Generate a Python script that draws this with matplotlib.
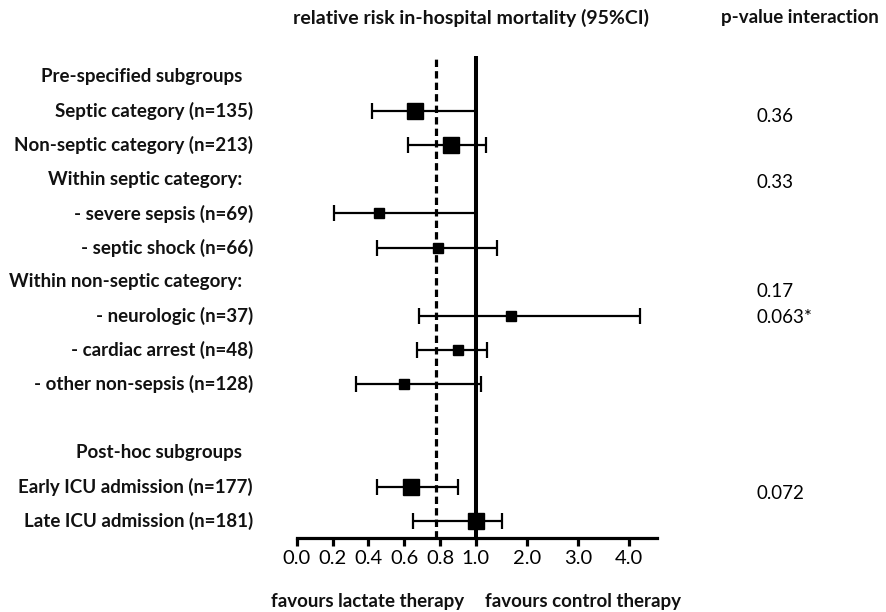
import numpy as np
import matplotlib
matplotlib.use("Agg")
import matplotlib.pyplot as plt
import matplotlib.transforms as mtransforms

plt.rcParams['font.family'] = ['Lato', 'DejaVu Sans']

# row labels, top to bottom (row index = position in list)
labels = ["Pre-specified subgroups", "Septic category (n=135)", "Non-septic category (n=213)",
          "Within septic category:", "- severe sepsis (n=69)", "- septic shock (n=66)",
          "Within non-septic category:", "- neurologic (n=37)", "- cardiac arrest (n=48)",
          "- other non-sepsis (n=128)", "", "Post-hoc subgroups",
          "Early ICU admission (n=177)", "Late ICU admission (n=181)"]
headers = [0, 3, 6, 11]

# relative risk estimates with 95% CI
rr_rows = [1, 2, 4, 5, 7, 8, 9, 12, 13]
rr = [0.66, 0.86, 0.46, 0.79, 1.69, 0.90, 0.60, 0.64, 1.00]
ci_lo = [0.42, 0.62, 0.21, 0.45, 0.68, 0.67, 0.33, 0.45, 0.65]
ci_hi = [1.01, 1.20, 1.00, 1.41, 4.22, 1.21, 1.10, 0.90, 1.52]
big = [True, True, False, False, False, False, False, True, True]

# p-value for interaction
p_rows = [1.17, 3.08, 6.27, 7.03, 12.2]
p_vals = ["0.36", "0.33", "0.17", "0.063*", "0.072"]

ref_dashed = 0.78
xticks = [0, 0.2, 0.4, 0.6, 0.8, 1.0, 2.0, 3.0, 4.0]


# piecewise axis: 0-1 stretched, 1-4 compressed
K = 0.285
def fwd(x):
    x = np.asarray(x, dtype=float)
    return np.where(x <= 1, x, 1 + (x - 1) * K)

def inv(y):
    y = np.asarray(y, dtype=float)
    return np.where(y <= 1, y, 1 + (y - 1) / K)


W, H = 887, 612
fig = plt.figure(figsize=(W / 100, H / 100), dpi=100)
ax = fig.add_axes([296.7 / W, 1 - 537.7 / H, 360 / W, (537.7 - 56) / H])
ax.set_xscale('function', functions=(fwd, inv))
ax.set_xlim(0, 4.54)
ax.set_ylim(13.49, -0.61)

ax.axvline(1.0, color='black', lw=2.9, zorder=1)
ax.axvline(ref_dashed, color='black', lw=2.3, ls=(0, (2.3, 1.3)), zorder=1)

for r, m, lo, hi, b in zip(rr_rows, rr, ci_lo, ci_hi, big):
    ax.errorbar(m, r, xerr=[[m - lo], [hi - m]], fmt='s', color='black',
                ms=11 if b else 7.5, elinewidth=1.6, capsize=6, capthick=1.6, zorder=3)

for s in ['left', 'right', 'top']:
    ax.spines[s].set_visible(False)
ax.spines['bottom'].set_linewidth(2.3)
ax.set_yticks([])
ax.set_xticks(xticks)
ax.set_xticklabels([f"{t:.1f}" for t in xticks])
ax.tick_params(axis='x', length=6, width=2.3, labelsize=14.5, pad=3)

tr = mtransforms.blended_transform_factory(fig.transFigure, ax.transData)
for i, lab in enumerate(labels):
    if not lab:
        continue
    xr = 242 if i in headers else 253
    fig.text(xr / W, i, lab, transform=tr, ha='right', va='center',
             fontsize=13.5, fontweight='bold', color='#111111')

for r, p in zip(p_rows, p_vals):
    fig.text(757 / W, r, p, transform=tr, ha='left', va='center', fontsize=13.5)

fig.text(471 / W, 1 - 18 / H, "relative risk in-hospital mortality (95%CI)",
         ha='center', va='center', fontsize=14, fontweight='bold', color='#111111')
fig.text(800 / W, 1 - 18 / H, "p-value interaction",
         ha='center', va='center', fontsize=13.5, fontweight='bold', color='#111111')
fig.text(368 / W, 1 - 602 / H, "favours lactate therapy",
         ha='center', va='center', fontsize=13.5, fontweight='bold', color='#111111')
fig.text(583 / W, 1 - 602 / H, "favours control therapy",
         ha='center', va='center', fontsize=13.5, fontweight='bold', color='#111111')

fig.savefig("out.png", dpi=100)
